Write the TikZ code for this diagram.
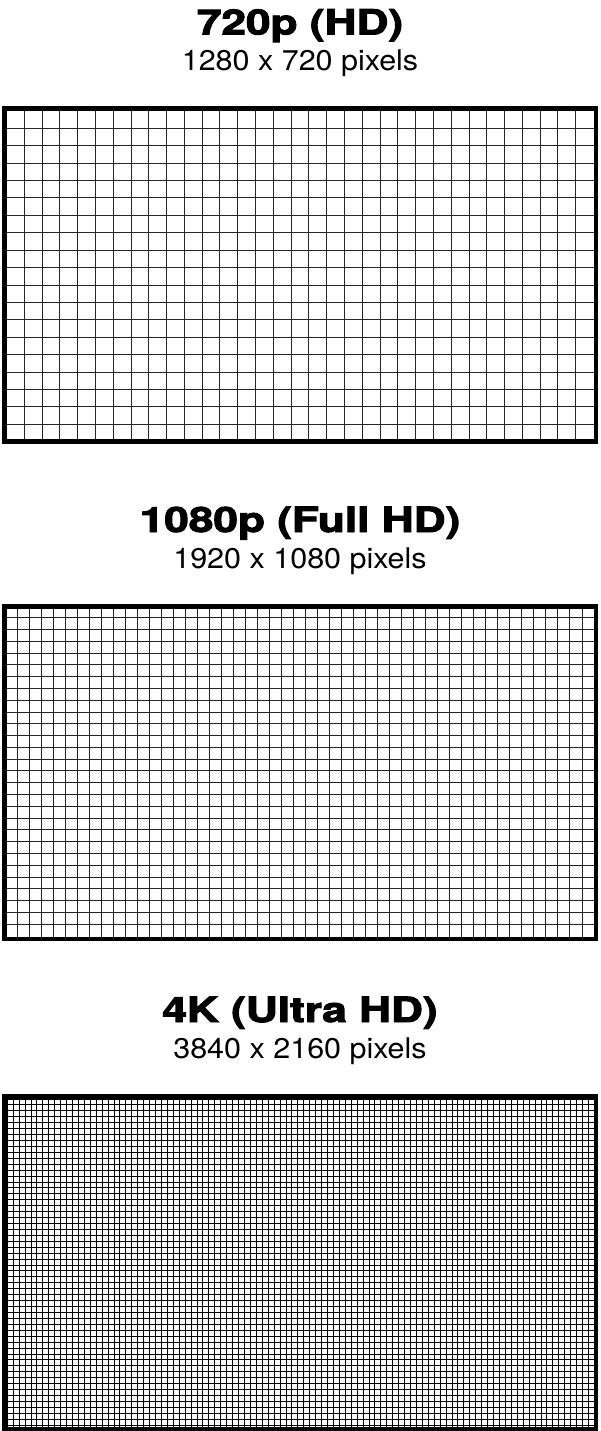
\documentclass[tikz,border=0pt]{standalone}
\usepackage{fontspec}
\setmainfont{TeX Gyre Heros}
\newfontfamily\titlefont{texgyreheros-bold}[Extension=.otf,FakeBold=2.5]

\tikzset{
  gridline/.style={black!#1,line width=1pt},
  gridline/.default=85,
  frame/.style={black,line width=4.5pt},
  titletext/.style={anchor=base,inner sep=0pt,font=\titlefont\fontsize{34.8}{40}\selectfont},
  subtext/.style={anchor=base,inner sep=0pt,font=\fontsize{28.5}{34}\selectfont}
}

\begin{document}
\begin{tikzpicture}[x=1pt,y=-1pt]
\useasboundingbox (0,0) rectangle (600,1431);
\foreach \name/\ptop/\xo/\xs/\nx/\yo/\ys/\ny/\ink/\title/\sub in {
  hd/106.5/6.5/17.79/32/110.9/17.41/18/85/{720p (HD)}/{1280 x 720 pixels},
  fullhd/604/5.285/12.015/48/605.9/11.79/27/85/{1080p (Full HD)}/{1920 x 1080 pixels},
  ultrahd/1094/1.37/5.93/99/1093.07/5.93/56/100/{4K (Ultra HD)}/{3840 x 2160 pixels}}
{
  \pgfmathsetmacro\pbot{\ptop+337}
  \foreach \k in {1,...,\nx}
    \draw[gridline=\ink] ({\xo+\k*\xs},\ptop) -- ({\xo+\k*\xs},\pbot);
  \foreach \k in {1,...,\ny}
    \draw[gridline=\ink] (2,{\yo+\k*\ys}) -- (598,{\yo+\k*\ys});
  \draw[frame] (4.25,\ptop+2.25) rectangle (595.75,\pbot-2.25);
  \node[titletext] (title-\name) at (300,\ptop-72) {\scalebox{1.27}[1]{\title}};
  \node[subtext] (sub-\name) at (300,\ptop-36) {\scalebox{1.07}[1]{\sub}};
}
\end{tikzpicture}
\end{document}
